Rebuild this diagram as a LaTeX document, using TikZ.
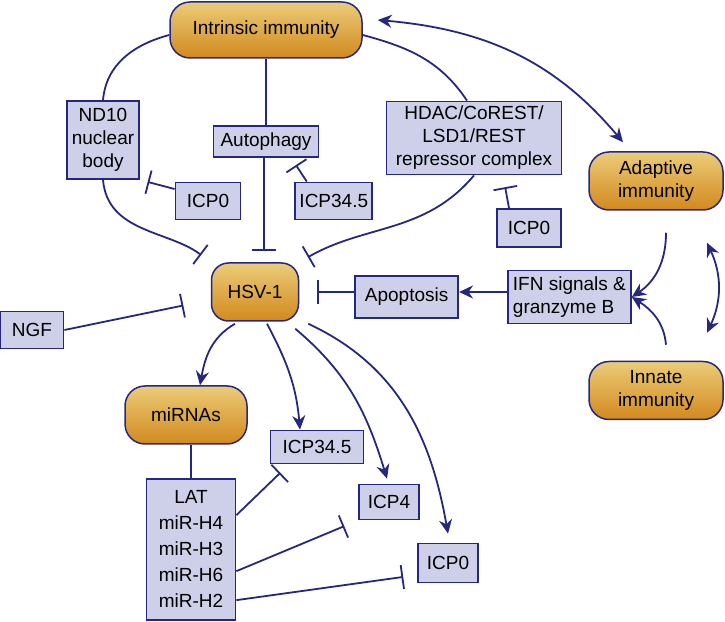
\documentclass[tikz,border=0pt]{standalone}
\usepackage{fontspec}
\setmainfont{Liberation Sans}
\usetikzlibrary{arrows.meta,positioning}
\definecolor{navy}{HTML}{26287F}
\definecolor{lav}{HTML}{CDD0E8}
\definecolor{goldtop}{HTML}{EBCC78}
\definecolor{goldbot}{HTML}{D2891E}

\begin{document}
\begin{tikzpicture}[x=1pt, y=1pt, font=\fontsize{19}{23}\selectfont,
	box/.style = {draw=navy, fill=lav, line width=1.8pt, inner sep=0pt, align=center},
	pill/.style = {draw=navy, top color=goldtop, bottom color=goldbot, rounded corners=20pt, line width=1.5pt, inner sep=0pt, align=center},
	link/.style = {draw=navy, line width=1.8pt},
	act/.style = {link, -{Stealth[length=14pt,width=13pt]}},
	dbl/.style = {link, {Stealth[length=14pt,width=13pt]}-{Stealth[length=14pt,width=13pt]}},
	inh/.style = {link, -{Bar[width=24pt]}}]
	\useasboundingbox (0,0) rectangle (725,621);
	\node[pill, minimum width=192pt, minimum height=56pt] (intr) at (266,591) {Intrinsic immunity};
	\node[box, minimum width=105pt, minimum height=31pt] [below=66pt of intr] (auto) {Autophagy};
	\node[box, minimum width=72pt, minimum height=78pt] (nd10) at (103,481) {ND10\\nuclear\\body};
	\node[box, minimum width=65pt, minimum height=37pt] (icp0a) at (208,420) {ICP0};
	\node[box, minimum width=77pt, minimum height=37pt] [right=53pt of icp0a] (icp345a) {ICP34.5};
	\node[box, minimum width=175pt, minimum height=73pt] (hdac) at (474,483) {HDAC/CoREST/\\LSD1/REST\\repressor complex};
	\node[box, minimum width=64pt, minimum height=38pt] (icp0b) at (529,393) {ICP0};
	\node[pill, minimum width=87pt, minimum height=58pt, rounded corners=17pt] (hsv) at (255,329) {HSV-1};
	\node[box, minimum width=63pt, minimum height=37pt] (ngf) at (32,291) {NGF};
	\node[box, minimum width=103pt, minimum height=42pt] [right=55pt of hsv, yshift=-5pt] (apop) {Apoptosis};
	\node[box, minimum width=123pt, minimum height=53pt, align=left] [right=48pt of apop] (ifn) {IFN signals \&\\granzyme B};
	\node[pill, minimum width=134pt, minimum height=58pt] (adapt) at (656,440) {Adaptive\\immunity};
	\node[pill, minimum width=134pt, minimum height=58pt] [below=150pt of adapt] (innate) {Innate\\immunity};
	\node[pill, minimum width=122pt, minimum height=58pt] (mirna) at (186,206) {miRNAs};
	\node[box, minimum width=89pt, minimum height=141pt, font=\fontsize{19}{26}\selectfont] [below=33pt of mirna, xshift=5pt] (lat) {LAT\\miR-H4\\miR-H3\\miR-H6\\miR-H2};
	\node[box, minimum width=93pt, minimum height=33pt] (icp345b) at (317,174) {ICP34.5};
	\node[box, minimum width=60pt, minimum height=35pt] (icp4) at (389,119) {ICP4};
	\node[box, minimum width=60pt, minimum height=39pt] (icp0c) at (448,58) {ICP0};
	\draw[link] ([yshift=-5pt]intr.west) to[out=195, in=85] (nd10.north);
	\draw[link] ([yshift=-5pt]intr.east) to[out=-15, in=124] ([xshift=-7pt]hdac.north);
	\draw[link] (auto.north |- intr.south) -- (auto.north);
	\draw[inh, shorten >=11pt] ([xshift=-2pt]auto.south) -- ([xshift=-2pt]auto.south |- hsv.north);
	\draw[inh, shorten >=12pt] (nd10.south) to[out=-85, in=143] (hsv.north west);
	\draw[inh, shorten >=8pt] ([yshift=12pt]icp0a.west) -- (nd10.south east);
	\draw[inh, shorten >=9pt] ([xshift=-27pt]icp345a.north) -- ([xshift=25pt]auto.south);
	\draw[inh, shorten >=10pt] (hdac.south) to[out=230, in=30] (hsv.north east);
	\draw[inh, shorten >=12pt] ([xshift=-20pt]icp0b.north) -- ([xshift=29pt]hdac.south);
	\draw[inh, shorten >=28pt] (ngf.east) -- (hsv.190);
	\draw[inh, shorten >=18pt] (apop.west |- hsv) -- (hsv.east);
	\draw[act] (ifn.west |- hsv) -- (apop.east |- hsv);
	\draw[act] ([xshift=10pt,yshift=-22pt]adapt.south) to[out=270, in=34] (ifn.east);
	\draw[act] ([xshift=10pt,yshift=16pt]innate.north) to[out=95, in=-33] (ifn.east);
	\draw[dbl] ([xshift=51pt,yshift=-32pt]adapt.south) to[out=-65, in=65] ([xshift=51pt,yshift=28pt]innate.north);
	\draw[dbl] ([xshift=15pt,yshift=10pt]intr.east) to[out=-5, in=130] ([xshift=-33pt,yshift=9pt]adapt.north);
	\draw[act] ([xshift=-20pt,yshift=-2pt]hsv.south) to[out=210, in=80] ([xshift=14pt]mirna.north);
	\draw[act] ([xshift=12pt,yshift=-2pt]hsv.south) to[out=-62, in=95] ([xshift=-17pt]icp345b.north);
	\draw[act] ([xshift=-4pt,yshift=-7pt]hsv.south east) to[out=-40, in=107] ([xshift=-2pt,yshift=5pt]icp4.north);
	\draw[act] ([xshift=9pt,yshift=-2pt]hsv.south east) to[out=-25, in=100] ([yshift=9pt]icp0c.north);
	\draw[link] (lat.north |- mirna.south) -- (lat.north);
	\draw[inh, shorten >=12pt] ([yshift=34pt]lat.east) -- ([xshift=-28pt]icp345b.south);
	\draw[inh, shorten >=15pt] ([yshift=-22pt]lat.east) -- (icp4.south west);
	\draw[inh, shorten >=14pt] ([yshift=-51pt]lat.east) -- ([yshift=-12pt]icp0c.west);
\end{tikzpicture}
\end{document}
